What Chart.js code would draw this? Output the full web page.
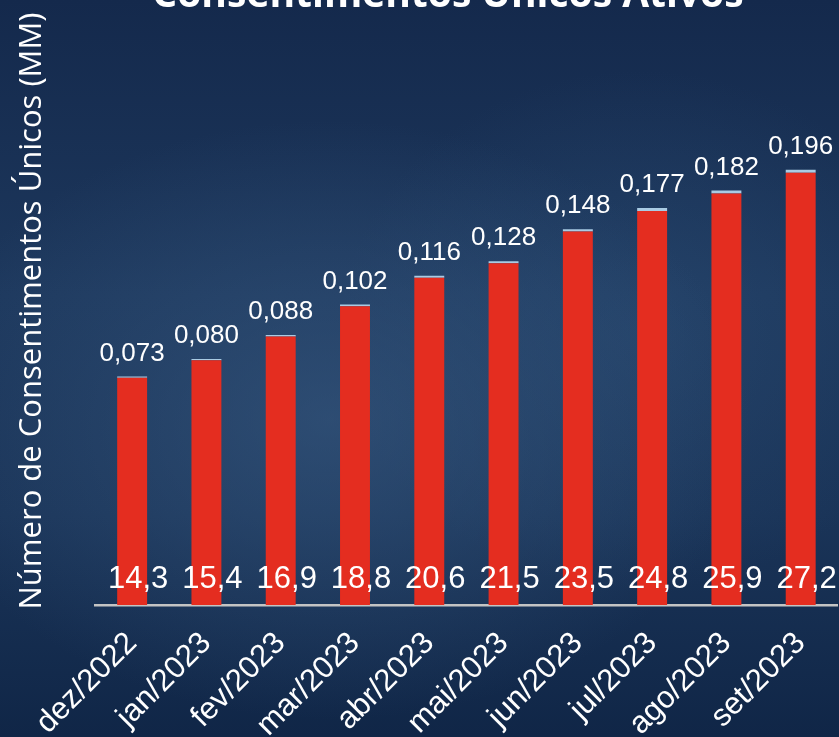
<!DOCTYPE html>
<html><head><meta charset="utf-8">
<script src="https://cdn.jsdelivr.net/npm/chart.js@4"></script>
<style>
html,body{margin:0;padding:0;width:839px;height:737px;overflow:hidden;}
body{background:
 radial-gradient(ellipse 420px 300px at 330px 420px, rgba(60,95,135,0.55), rgba(60,95,135,0) 100%),
 radial-gradient(ellipse 300px 260px at 640px 330px, rgba(45,80,120,0.45), rgba(45,80,120,0) 100%),
 linear-gradient(180deg,#14294c 0%,#1d385d 40%,#1a3458 70%,#102647 100%);}
#wrap{position:absolute;left:0;top:0;width:839px;height:737px;}
</style></head>
<body>
<div id="wrap"><canvas id="c" width="839" height="737"></canvas></div>
<script>
const categories = ["dez/2022","jan/2023","fev/2023","mar/2023","abr/2023","mai/2023","jun/2023","jul/2023","ago/2023","set/2023"];
const mainValues = [14.3,15.4,16.9,18.8,20.6,21.5,23.5,24.8,25.9,27.2];
const topValues = [0.073,0.080,0.088,0.102,0.116,0.128,0.148,0.177,0.182,0.196];
const titleText = "Consentimentos Únicos Ativos";
const yTitleText = "Número de Consentimentos Únicos (MM)";

const fmt1 = v => v.toFixed(1).replace('.', ',');
const fmt3 = v => v.toFixed(3).replace('.', ',');

const labelPlugin = {
  id: 'labels',
  afterDatasetsDraw(chart){
    const ctx = chart.ctx;
    ctx.save();
    ctx.fillStyle = '#ffffff';
    ctx.textAlign = 'center';
    ctx.textBaseline = 'alphabetic';
    const m0 = chart.getDatasetMeta(0), m1 = chart.getDatasetMeta(1);
    const base = chart.scales.y.getPixelForValue(0);
    ctx.font = '31px "Liberation Sans", Arial, sans-serif';
    m0.data.forEach((el,i)=>{ ctx.fillText(fmt1(mainValues[i]), el.x + 6, base - 17); });
    ctx.font = '26px "Liberation Sans", Arial, sans-serif';
    m1.data.forEach((el,i)=>{ ctx.fillText(fmt3(topValues[i]), el.x, el.y - 16); });
    // title (partially cut at top of the image)
    ctx.font = 'bold 39px "Open Sans", sans-serif';
    ctx.fillText(titleText, 448, 7);
    ctx.restore();
  }
};

new Chart(document.getElementById('c'), {
  type: 'bar',
  data: {
    labels: categories,
    datasets: [
      {data: mainValues, backgroundColor: '#e42d20', stack: 's', barPercentage: 0.403, categoryPercentage: 1},
      {data: topValues, backgroundColor: '#a9cbe3', stack: 's', barPercentage: 0.403, categoryPercentage: 1}
    ]
  },
  options: {
    responsive: false,
    animation: false,
    layout: {padding: {top: 17, right: 0, left: 0, bottom: 0}},
    plugins: {legend: {display: false}, tooltip: {enabled: false}, title: {display: false}},
    scales: {
      x: {
        stacked: true,
        grid: {display: false},
        border: {display: true, color: '#c4c4c4', width: 2.5},
        ticks: {color: '#ffffff', minRotation: 45, maxRotation: 45, padding: 12,
                font: {family: '"Liberation Sans", Arial, sans-serif', size: 31}},
        afterFit(scale){ scale.height = 132; }
      },
      y: {
        stacked: true,
        min: 0, max: 37,
        grid: {display: false},
        border: {display: false},
        ticks: {display: false},
        title: {display: true, text: yTitleText, color: '#ffffff', padding: {top: 14, bottom: 0},
                font: {family: '"Open Sans", sans-serif', size: 31, weight: 'normal'}},
        afterFit(scale){ scale.width = 95; }
      }
    }
  },
  plugins: [labelPlugin]
});
</script>
</body></html>
